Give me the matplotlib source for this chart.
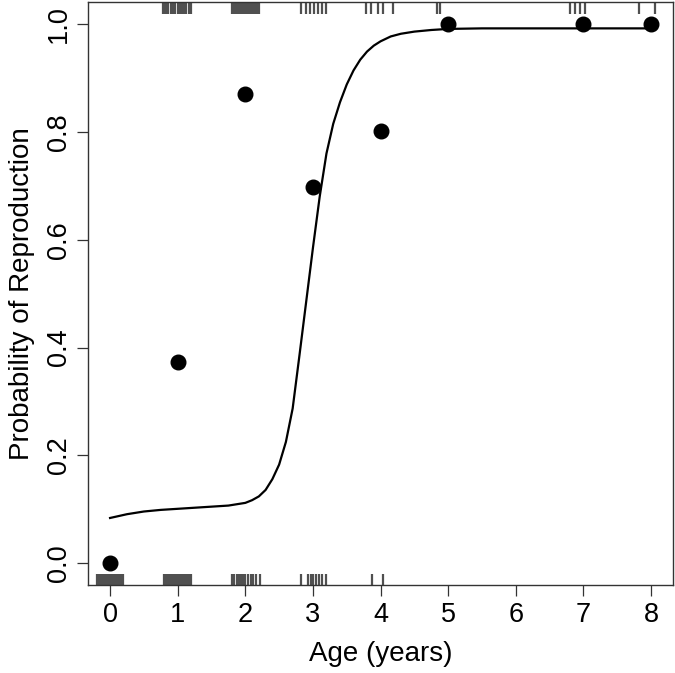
import numpy as np
import matplotlib
matplotlib.use("Agg")
import matplotlib.pyplot as plt
import matplotlib.transforms as mtransforms

plt.rcParams["font.family"] = ["Liberation Sans", "DejaVu Sans"]

# observed proportion reproducing by age
ages = [0, 1, 2, 3, 4, 5, 7, 8]
prop = [0.0, 0.373, 0.871, 0.697, 0.802, 1.0, 1.0, 1.0]

# fitted curve
fit_x = [0.0, 0.25, 0.5, 0.75, 1.0, 1.25, 1.5, 1.75, 2.0, 2.1, 2.2, 2.3, 2.4,
         2.5, 2.6, 2.7, 2.8, 2.9, 3.0, 3.1, 3.2, 3.3, 3.4, 3.5, 3.6, 3.7,
         3.8, 3.9, 4.0, 4.15, 4.3, 4.5, 4.75, 5.0, 5.5, 6.0, 7.0, 8.0]
fit_y = [0.084, 0.091, 0.096, 0.099, 0.101, 0.103, 0.105, 0.107, 0.112, 0.117,
         0.124, 0.136, 0.156, 0.183, 0.225, 0.287, 0.385, 0.485, 0.585, 0.68,
         0.76, 0.815, 0.855, 0.888, 0.914, 0.934, 0.949, 0.96, 0.968, 0.977,
         0.982, 0.986, 0.989, 0.991, 0.992, 0.992, 0.992, 0.992]

# jittered ages of individuals (rug): non-reproducing (bottom), reproducing (top)
rug_zero = [-0.2, -0.18, -0.16, -0.14, -0.12, -0.1, -0.08, -0.06, -0.04, -0.02,
            0.0, 0.02, 0.04, 0.06, 0.08, 0.1, 0.12, 0.14, 0.16, 0.18, 0.19,
            0.8, 0.82, 0.84, 0.86, 0.88, 0.9, 0.92, 0.94, 0.96, 0.98, 1.0,
            1.02, 1.04, 1.06, 1.08, 1.1, 1.12, 1.14, 1.16, 1.18, 1.2,
            1.81, 1.84, 1.87, 1.9, 1.93, 1.97, 2.0, 2.04, 2.08, 2.12, 2.16, 2.21,
            2.83, 2.93, 2.97, 3.0, 3.05, 3.09, 3.13, 3.19,
            3.88, 4.04]
rug_one = [0.79, 0.81, 0.83, 0.85, 0.9, 0.93, 0.96, 1.0, 1.03, 1.06, 1.1,
           1.13, 1.17, 1.19,
           1.8, 1.82, 1.84, 1.86, 1.88, 1.9, 1.92, 1.94, 1.96, 1.98, 2.0, 2.02,
           2.04, 2.06, 2.08, 2.1, 2.12, 2.14, 2.16, 2.18, 2.2,
           2.83, 2.9, 2.96, 3.02, 3.08, 3.14, 3.2,
           3.79, 3.86, 3.96, 4.03, 4.18,
           4.83, 4.88,
           6.8, 6.87, 6.95, 7.03,
           7.82, 8.06]

fig = plt.figure(figsize=(6.75, 6.73), dpi=100)
ax = fig.add_axes([0.131, 0.131, 0.8656, 0.8653])

trans = mtransforms.blended_transform_factory(ax.transData, ax.transAxes)
ax.vlines(rug_zero, 0, 0.019, transform=trans, color="#505050", lw=1.6)
ax.vlines(rug_one, 0.981, 1, transform=trans, color="#505050", lw=1.6)

ax.plot(fit_x, fit_y, color="black", lw=1.6)
ax.plot(ages, prop, "o", color="black", ms=10.5)

ax.set_xlim(-0.32, 8.32)
ax.set_ylim(-0.04, 1.04)
ax.set_xticks(range(9))
ax.set_yticks([0.0, 0.2, 0.4, 0.6, 0.8, 1.0])
ax.set_yticklabels(["0.0", "0.2", "0.4", "0.6", "0.8", "1.0"],
                   rotation=90, va="center")
ax.tick_params(direction="out", length=8, width=0.9, color="#333333",
               labelsize=19.5, pad=4)
for sp in ax.spines.values():
    sp.set_color("#333333")
    sp.set_linewidth(1.0)

ax.set_xlabel("Age (years)", fontsize=20, labelpad=10)
ax.set_ylabel("Probability of Reproduction", fontsize=20, labelpad=8)

fig.savefig("out.png", dpi=100)
